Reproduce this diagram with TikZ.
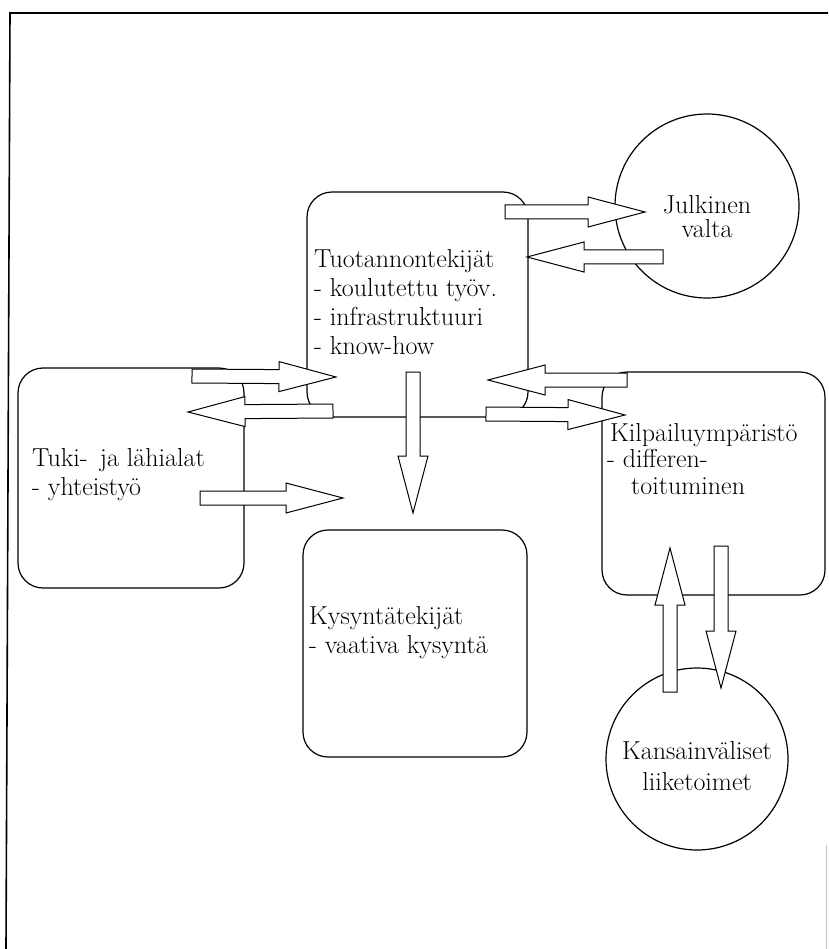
\documentclass[tikz,border=0pt]{standalone}
\usepackage{fontspec}
\usetikzlibrary{calc}
\tikzset{
  box/.style={draw, line width=1.2pt, rounded corners=25pt, inner sep=0pt},
  ring/.style={draw, circle, line width=1.2pt, inner sep=0pt},
  lbl/.style={inner sep=0pt, align=left, anchor=west, font=\fontsize{26}{29}\selectfont},
  clbl/.style={inner sep=0pt, align=center, font=\fontsize{26}{26}\selectfont},
  blk/.style={draw, fill=white, line width=1pt, line join=miter},
  frame/.style={line width=1.6pt},
}
\newcommand\blockarrow[2]{%
  \coordinate (hb) at ($(#2)!57pt!(#1)$);
  \path[blk] ($(#1)!7pt!90:(#2)$) -- ($(hb)!7pt!-90:(#1)$) -- ($(hb)!15pt!-90:(#1)$)
     -- (#2) -- ($(hb)!15pt!90:(#1)$) -- ($(hb)!7pt!90:(#1)$) -- ($(#1)!7pt!-90:(#2)$) -- cycle;}
\begin{document}
\begin{tikzpicture}[x=1pt,y=-1pt]
\useasboundingbox (0,0) rectangle (828,949);
\fill[white] (0,0) rectangle (828,949);
% frame
\draw[frame] (6,949) -- (10,13) -- (828,13);
\draw[gray!45, line width=0.8pt] (826,845) -- (826,949);

% boxes
\node[box, minimum width=221pt, minimum height=225pt] (T) at (417.5,304.5) {};
\node[box, minimum width=226pt, minimum height=220pt] (L) at (131,478) {};
\node[box, minimum width=224pt, minimum height=227pt] (D) at (415,643.5) {};
\node[box, minimum width=223pt, minimum height=223pt] (K) at (713.5,483.5) {};
\node[ring, minimum size=184pt] (J) at (707,206) {};
\node[ring, minimum size=182pt] (I) at (697,759) {};

% texts
\node[lbl] (Tt) at (314,302) {Tuotannontekijät\\- koulutettu työv.\\- infrastruktuuri\\- know-how};
\node[lbl] (Lt) at (32,475) {Tuki-\, ja lähialat\\- yhteistyö};
\node[lbl] (Dt) at (309,633) {Kysyntätekijät\\- vaativa kysyntä};
\node[lbl, font=\fontsize{26}{26.5}\selectfont] (Kt) at (607,459) {\hspace*{3pt}Kilpailuympäristö\\- differen-\\\hspace*{24pt}toituminen};
\node[clbl, font=\fontsize{26}{24}\selectfont] (Jt) at (707,217) {Julkinen\\valta};
\node[clbl, font=\fontsize{26}{31}\selectfont] (It) at (697,766) {Kansainväliset\\liiketoimet};

% arrow end points
\coordinate (a1s) at (505,212);  \coordinate (a1e) at (645,212);
\coordinate (a2s) at (663,257);  \coordinate (a2e) at (527,257);
\coordinate (a3s) at (192,376);  \coordinate (a3e) at (336,377);
\coordinate (a4s) at (333,411);  \coordinate (a4e) at (188,412);
\coordinate (a5s) at (200,498);  \coordinate (a5e) at (343,498);
\coordinate (a6s) at (413,372);  \coordinate (a6e) at (413,513);
\coordinate (a7s) at (627,380);  \coordinate (a7e) at (488,380);
\coordinate (a8s) at (486,414);  \coordinate (a8e) at (625,415);
\coordinate (a9s) at (670,692);  \coordinate (a9e) at (670,548);
\coordinate (a10s) at (721,546); \coordinate (a10e) at (721,688);

\blockarrow{a1s}{a1e}
\blockarrow{a2s}{a2e}
\blockarrow{a3s}{a3e}
\blockarrow{a4s}{a4e}
\blockarrow{a5s}{a5e}
\blockarrow{a6s}{a6e}
\blockarrow{a7s}{a7e}
\blockarrow{a8s}{a8e}
\blockarrow{a9s}{a9e}
\blockarrow{a10s}{a10e}
\end{tikzpicture}
\end{document}
